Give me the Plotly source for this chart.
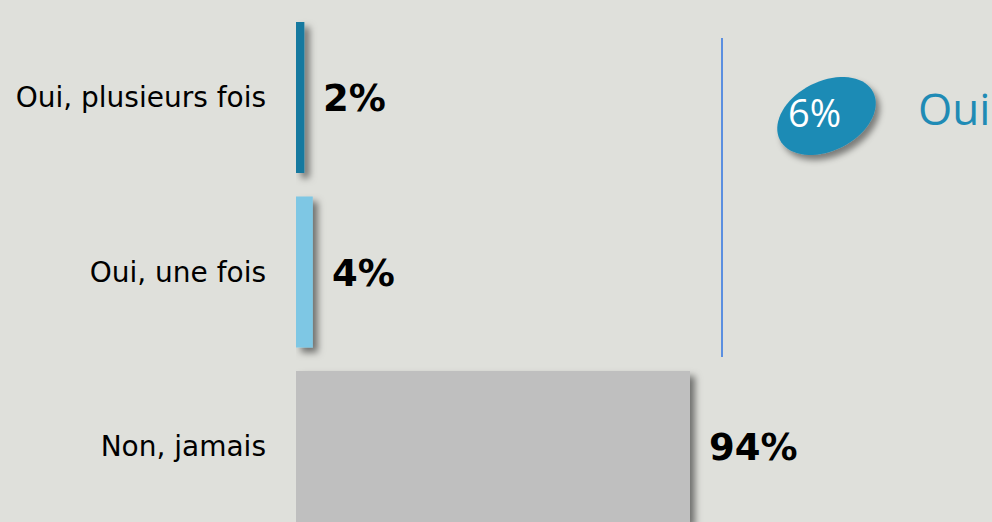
import math
import plotly.graph_objects as go

# Survey answers and shares (%)
categories = ["Oui, plusieurs fois", "Oui, une fois", "Non, jamais"]
values = [2, 4, 94]
bar_colors = ["#17799f", "#7ec7e4", "#bfbfbf"]
value_labels = [f"{v}%" for v in values]

# Combined "yes" share shown in the badge
oui_total = values[0] + values[1]
oui_label = "Oui"

W, H = 992, 522
ML = 296
BG = "#dfe0db"
BADGE = "#1f8bb5"


def px_x(px):
    return (px - ML) / (W - ML)


def px_y(py):
    return 1 - py / H


fig = go.Figure()
fig.add_trace(go.Bar(
    y=categories,
    x=values,
    orientation="h",
    marker=dict(color=bar_colors, line=dict(width=0)),
    cliponaxis=False,
    hoverinfo="skip",
))

# Bold value labels just past the end of each bar
for cat, v, lab in zip(categories, values, value_labels):
    fig.add_annotation(
        x=v, y=cat, text=f"<b>{lab}</b>", showarrow=False,
        xanchor="left", yanchor="middle", xshift=17, yshift=-1,
        font=dict(family="DejaVu Sans", size=37, color="#000000"),
    )

# Vertical separator
fig.add_shape(
    type="line", xref="paper", yref="paper",
    x0=px_x(722), x1=px_x(722), y0=px_y(357), y1=px_y(38),
    line=dict(color="#5b8fe0", width=2),
)

# Tilted ellipse badge
a, b, th = 52.4, 34.7, math.radians(27)
pts = []
for i in range(73):
    t = 2 * math.pi * i / 72
    ex = a * math.cos(t) * math.cos(th) - b * math.sin(t) * math.sin(th)
    ey = a * math.cos(t) * math.sin(th) + b * math.sin(t) * math.cos(th)
    pts.append(f"{ex:.2f},{ey:.2f}")
ellipse_path = "M" + " L".join(pts) + " Z"
fig.add_shape(
    type="path", xref="paper", yref="paper",
    xsizemode="pixel", ysizemode="pixel",
    xanchor=px_x(826.5), yanchor=px_y(116),
    path=ellipse_path,
    fillcolor=BADGE, line=dict(width=0),
)
fig.add_annotation(
    xref="paper", yref="paper", x=px_x(814.5), y=px_y(112),
    text=f"{oui_total}%", showarrow=False, xanchor="center", yanchor="middle",
    font=dict(family="Open Sans", size=38, color="#ffffff"),
)
fig.add_annotation(
    xref="paper", yref="paper", x=px_x(916), y=px_y(108),
    text=oui_label, showarrow=False, xanchor="left", yanchor="middle",
    font=dict(family="Open Sans", size=44, color=BADGE),
)

pitch = 174.5
top_center = 97.5
fig.update_layout(
    width=W, height=H,
    margin=dict(l=ML, r=0, t=0, b=0, pad=0),
    paper_bgcolor=BG, plot_bgcolor=BG,
    showlegend=False,
    bargap=1 - 151 / pitch,
    xaxis=dict(
        range=[0, (W - ML) / (394 / values[2])],
        visible=False, fixedrange=True,
    ),
    yaxis=dict(
        categoryorder="array", categoryarray=categories,
        range=[(H - top_center) / pitch, -top_center / pitch],
        showgrid=False, zeroline=False, showline=False, ticks="",
        ticklabelstandoff=29,
        tickfont=dict(family="DejaVu Sans", size=28, color="#000000"),
        fixedrange=True,
    ),
)

shadow_js = """
(function () {
var gd = document.getElementById('{plot_id}');
var ns = 'http://www.w3.org/2000/svg';
var svg = gd.querySelector('svg.main-svg');
var defs = svg.querySelector('defs');
if (!defs) { defs = document.createElementNS(ns, 'defs'); svg.insertBefore(defs, svg.firstChild); }
function mk(id, dx, dy, sd, op) {
  var f = document.createElementNS(ns, 'filter');
  f.setAttribute('id', id);
  f.setAttribute('filterUnits', 'userSpaceOnUse');
  f.setAttribute('x', '-2000'); f.setAttribute('y', '-2000');
  f.setAttribute('width', '6000'); f.setAttribute('height', '6000');
  var d = document.createElementNS(ns, 'feDropShadow');
  d.setAttribute('dx', dx); d.setAttribute('dy', dy);
  d.setAttribute('stdDeviation', sd);
  d.setAttribute('flood-color', '#000');
  d.setAttribute('flood-opacity', op);
  f.appendChild(d);
  defs.appendChild(f);
}
mk('barshadow', 5, 5, 3.5, 0.5);
mk('badgeshadow', 4, 5, 3, 0.45);
function apply() {
  gd.querySelectorAll('.barlayer path').forEach(function (p) {
    p.setAttribute('filter', 'url(#barshadow)');
  });
  var shapes = gd.querySelectorAll('.shapelayer path');
  if (shapes.length > 1) shapes[1].setAttribute('filter', 'url(#badgeshadow)');
}
apply();
setTimeout(apply, 50);
setTimeout(apply, 300);
})();
"""

fig.write_html("out.html", post_script=shadow_js, config={"displayModeBar": False})
